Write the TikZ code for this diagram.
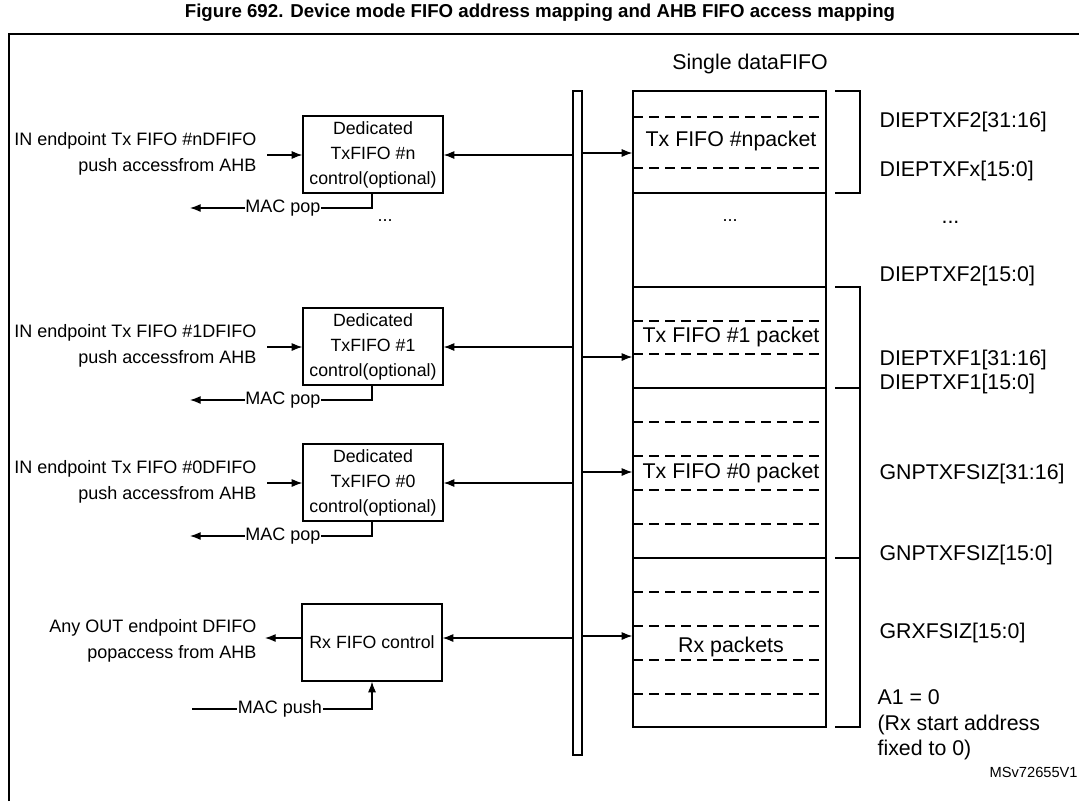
\documentclass[tikz,border=0pt]{standalone}
\usepackage{fontspec}
\setmainfont{Liberation Sans}
\usetikzlibrary{arrows.meta}
\begin{document}
\begin{tikzpicture}[x=0.75pt,y=-0.75pt,
  lw/.style={line width=0.9pt},
  arr/.style={lw,-{Latex[length=8pt,width=6pt]}},
  box/.style={draw,lw,minimum width=105pt,inner sep=0pt,align=center,font=\fontsize{13.3}{18.75}\selectfont},
  lbl/.style={font=\fontsize{13.5}{19}\selectfont,inner sep=1pt},
  big/.style={font=\fontsize{16}{19}\selectfont,inner sep=1pt},
  dsh/.style={lw,dash pattern=on 7.5pt off 4.5pt}]
\useasboundingbox (0,0) rectangle (1079,801);
\node[font=\bfseries\fontsize{14}{16}\selectfont] (title) at (540,13) {Figure 692. Device mode FIFO address mapping and AHB FIFO access mapping};
\draw[line width=1.6pt] (9,801) -- (9,34) -- (1085,34);
% bus
\node[draw,lw,minimum width=6.75pt,minimum height=498pt,inner sep=0pt] (bus) at (577.5,423) {};
% FIFO column
\node[draw,lw,minimum width=144.75pt,minimum height=477pt,inner sep=0pt] (fifo) at (729.5,409) {};
\node[big] (sd) at (750,64) {Single dataFIFO};
\foreach \y in {193,287,388,558} \draw[lw] (633,\y) -- (826,\y);
\foreach \y in {117,168,321,354,422,456,490,524,592,626,660,694} \draw[dsh] (633,\y) -- (822,\y);
\node[big,fill=white] (tn) at (731,141) {Tx FIFO \#npacket};
\node[lbl] (td) at (730,221) {...};
\node[big,fill=white] (t1) at (731,337) {Tx FIFO \#1 packet};
\node[big,fill=white] (t0) at (731,473) {Tx FIFO \#0 packet};
\node[big] (rp) at (731,647) {Rx packets};
% brackets
\draw[lw] (835,91) -- (860,91) -- (860,193) -- (835,193);
\draw[lw] (835,287) -- (860,287) -- (860,727) -- (835,727);
\draw[lw] (835,388) -- (860,388);
\draw[lw] (835,558) -- (860,558);
% right labels
\begin{scope}[every node/.style={big,anchor=west}]
\node (r1) at (878,122) {DIEPTXF2[31:16]};
\node (r2) at (878,171) {DIEPTXFx[15:0]};
\node (r3) at (940,222) {...};
\node (r4) at (878,276) {DIEPTXF2[15:0]};
\node (r5) at (878,360) {DIEPTXF1[31:16]};
\node (r6) at (878,384) {DIEPTXF1[15:0]};
\node (r7) at (878,474) {GNPTXFSIZ[31:16]};
\node (r8) at (878,555) {GNPTXFSIZ[15:0]};
\node (r9) at (878,633) {GRXFSIZ[15:0]};
\node[align=left,font=\fontsize{16}{19}\selectfont] (r10) at (876,725) {A1 = 0\\(Rx start address\\fixed to 0)};
\node[font=\fontsize{11}{13}\selectfont] (ms) at (988,772) {MSv72655V1};
\end{scope}
% control boxes
\foreach \n/\yo/\lab/\fa in {n/0/\#n/153, 1/192/\#1/357, 0/328/\#0/472}{
  \node[box,minimum height=57.75pt] (b\n) at (373,154.5+\yo) {Dedicated\\TxFIFO \lab\\control(optional)};
  \node[lbl,anchor=east,align=right] (l\n) at (258,154+\yo) {IN endpoint Tx FIFO \lab DFIFO\\push accessfrom AHB};
  \coordinate (ia\n) at (267,155+\yo);
  \draw[arr] (ia\n) -- (b\n.west |- ia\n);
  \coordinate (bl\n) at (573,155+\yo);
  \draw[arr] (bl\n) -- (b\n.east |- bl\n);
  \coordinate (br\n) at (582,\fa);
  \draw[arr] (br\n) -- (fifo.west |- br\n);
  \coordinate (mp\n) at (190,208+\yo);
  \coordinate (mc\n) at (372,208+\yo);
  \draw[arr] (b\n.south -| mc\n) -- (mc\n) -- (mp\n);
  \node[lbl,fill=white,inner sep=0.5pt] (mt\n) at (283,208+\yo) {MAC pop};
}
\node[lbl] (dots) at (385,221) {...};
% Rx box
\node[box,minimum height=57.75pt] (brx) at (372,642.5) {Rx FIFO control};
\node[lbl,anchor=east,align=right] (lrx) at (258,641) {Any OUT endpoint DFIFO\\popaccess from AHB};
\coordinate (rxo) at (265,638);
\draw[arr] (brx.west |- rxo) -- (rxo);
\coordinate (rbl) at (573,638);
\draw[arr] (rbl) -- (brx.east |- rbl);
\coordinate (rbr) at (582,636);
\draw[arr] (rbr) -- (fifo.west |- rbr);
\coordinate (mps) at (192,709);
\coordinate (mpc) at (372,709);
\draw[arr] (mps) -- (mpc) -- (brx.south);
\node[lbl,fill=white,inner sep=0.5pt] (mpt) at (280,709) {MAC push};
\end{tikzpicture}
\end{document}
